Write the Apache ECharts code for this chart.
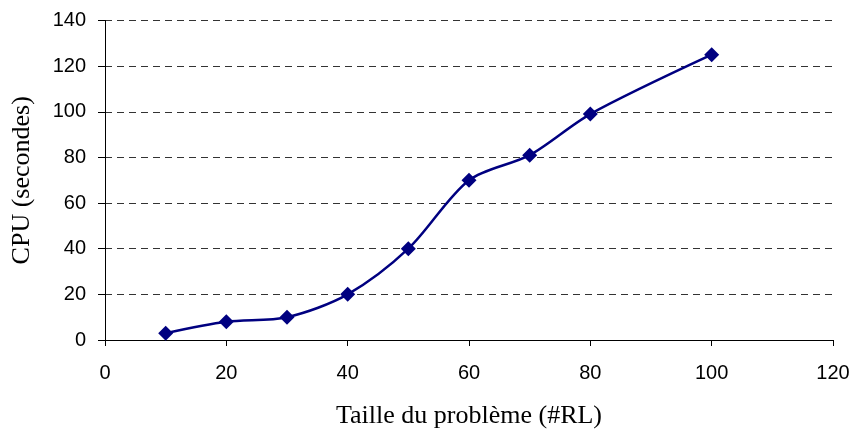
<!DOCTYPE html>
<html>
<head>
<meta charset="utf-8">
<script src="https://cdn.jsdelivr.net/npm/echarts@6/dist/echarts.min.js"></script>
<style>
  html, body { margin: 0; padding: 0; background: #fff; }
  #chart { width: 857px; height: 434px; }
</style>
</head>
<body>
<div id="chart"></div>
<script>
// Taille du problème (#RL) et temps CPU (secondes)
let tailles = [10, 20, 30, 40, 50, 60, 70, 80, 100];
let cpu = [3, 8, 10, 20, 40, 70, 81, 99, 125];

let points = tailles.map((t, i) => [t, cpu[i]]);

let option = {
    animation: false,
    grid: {
        left: 105,
        right: 24,
        top: 20.5,
        bottom: 94,
        outerBoundsMode: 'none'
    },
    xAxis: {
        type: 'value',
        min: 0,
        max: 120,
        interval: 20,
        name: 'Taille du problème (#RL)',
        nameLocation: 'middle',
        nameGap: 63,
        nameTextStyle: {
            fontFamily: 'Liberation Serif',
            fontSize: 26,
            color: '#000'
        },
        axisLine: { show: true, lineStyle: { color: '#000', width: 1 } },
        axisTick: { show: true, length: 6, lineStyle: { color: '#000' } },
        axisLabel: {
            margin: 23,
            fontFamily: 'Liberation Sans',
            fontSize: 20,
            color: '#000'
        },
        splitLine: { show: false }
    },
    yAxis: {
        type: 'value',
        min: 0,
        max: 140,
        interval: 20,
        name: 'CPU (secondes)',
        nameLocation: 'middle',
        nameGap: 70,
        nameRotate: 90,
        nameTextStyle: {
            fontFamily: 'Liberation Serif',
            fontSize: 26,
            color: '#000'
        },
        axisLine: { show: true, lineStyle: { color: '#000', width: 1 } },
        axisTick: { show: true, length: 7, lineStyle: { color: '#000' } },
        axisLabel: {
            margin: 19,
            fontFamily: 'Liberation Sans',
            fontSize: 20,
            color: '#000'
        },
        splitLine: {
            show: true,
            lineStyle: { color: '#333', width: 1, type: [7, 5] }
        }
    },
    series: [{
        type: 'line',
        data: points,
        smooth: 0.3,
        symbol: 'diamond',
        symbolSize: 15,
        itemStyle: { color: '#000080' },
        lineStyle: { color: '#000080', width: 2.5 }
    }]
};

let chart = echarts.init(document.getElementById('chart'));
chart.setOption(option);
</script>
</body>
</html>
